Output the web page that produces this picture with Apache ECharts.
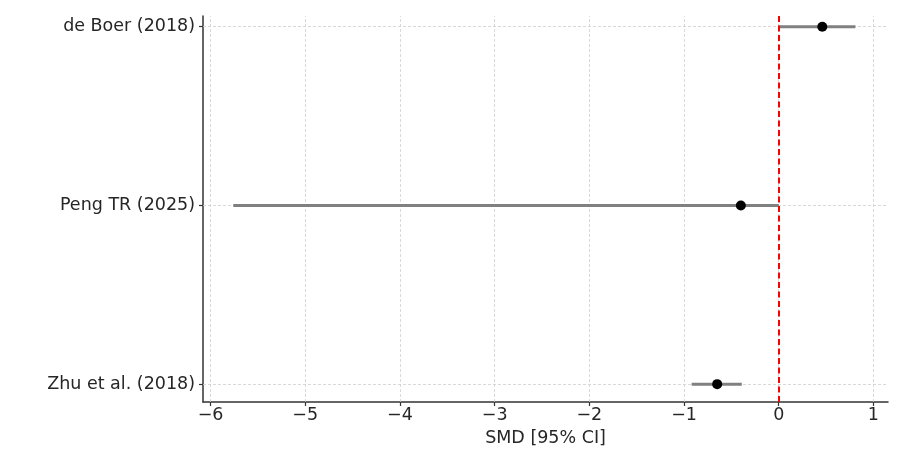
<!DOCTYPE html>
<html>
<head>
<meta charset="utf-8">
<style>
  html, body { margin: 0; padding: 0; background: #ffffff; }
  #chart { width: 923px; height: 449px; }
</style>
<script src="https://cdn.jsdelivr.net/npm/echarts@6/dist/echarts.min.js"></script>
</head>
<body>
<div id="chart"></div>
<script>
// Studies listed bottom to top (row 0 at the bottom)
const studies = ['Zhu et al. (2018)', 'Peng TR (2025)', 'de Boer (2018)'];
const smd     = [-0.65, -0.40, 0.46];
const ciLow   = [-0.92, -5.76, 0.00];
const ciHigh  = [-0.39,  0.00, 0.81];

const xTicks = [-6, -5, -4, -3, -2, -1, 0, 1];
const yTicks = [0, 1, 2];

const FONT = 'DejaVu Sans';
const FONT_SIZE = 17.5;
const TEXT = '#262626';

const gridLine = { color: '#cfcfcf', width: 0.8, type: [3, 2] };

const ciSeries = studies.map((name, i) => ({
  name: name,
  type: 'line',
  data: [[ciLow[i], i], [ciHigh[i], i]],
  symbol: 'none',
  lineStyle: { color: '#808080', width: 3 },
  silent: true,
  z: 3
}));

const chart = echarts.init(document.getElementById('chart'), null, { renderer: 'canvas' });

chart.setOption({
  animation: false,
  backgroundColor: '#ffffff',
  grid: {
    left: 203, right: 35, top: 16, bottom: 47,
    containLabel: false,
    outerBoundsMode: 'none'
  },
  xAxis: {
    type: 'value',
    min: -6.08,
    max: 1.154,
    name: 'SMD [95% CI]',
    nameLocation: 'middle',
    nameGap: 27,
    nameTextStyle: { fontFamily: FONT, fontSize: FONT_SIZE, color: TEXT },
    axisLine: { show: true, onZero: false, lineStyle: { color: '#333333', width: 1.5 } },
    axisTick: { show: true, customValues: xTicks, length: 4, lineStyle: { color: '#333333', width: 1.2 } },
    axisLabel: {
      customValues: xTicks,
      fontFamily: FONT, fontSize: FONT_SIZE, color: TEXT, margin: 4,
      formatter: v => String(v).replace('-', '\u2212')
    },
    splitLine: { show: false }
  },
  yAxis: {
    type: 'value',
    min: -0.1,
    max: 2.06,
    axisLine: { show: true, onZero: false, lineStyle: { color: '#333333', width: 1.5 } },
    axisTick: { show: true, customValues: yTicks, length: 4, lineStyle: { color: '#333333', width: 1.2 } },
    axisLabel: {
      customValues: yTicks,
      fontFamily: FONT, fontSize: FONT_SIZE, color: TEXT, margin: 8,
      formatter: v => studies[Math.round(v)]
    },
    splitLine: { show: false }
  },
  series: [
    // dashed reference grid drawn at the tick positions
    {
      type: 'line',
      data: [],
      silent: true,
      z: 1,
      markLine: {
        silent: true,
        z: 1,
        symbol: 'none',
        label: { show: false },
        lineStyle: gridLine,
        data: xTicks.map(v => ({ xAxis: v })).concat(yTicks.map(v => ({ yAxis: v })))
      }
    },
    ...ciSeries,
    // line of no effect
    {
      type: 'line',
      data: [],
      z: 6,
      markLine: {
        silent: true,
        z: 6,
        symbol: 'none',
        label: { show: false },
        lineStyle: { color: '#ff0000', width: 2, type: [6, 3.5] },
        data: [{ xAxis: 0 }]
      }
    },
    {
      name: 'SMD',
      type: 'scatter',
      data: smd.map((v, i) => [v, i]),
      symbol: 'circle',
      symbolSize: 10,
      itemStyle: { color: '#000000', opacity: 1 },
      z: 8
    }
  ]
});
</script>
</body>
</html>
